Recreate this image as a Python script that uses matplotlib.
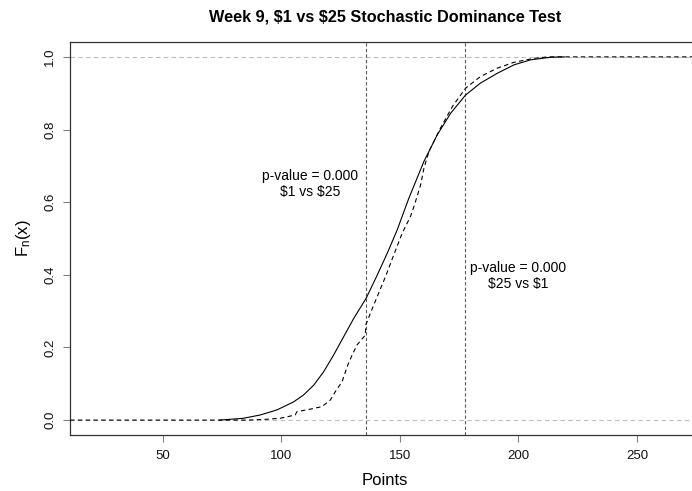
import matplotlib
matplotlib.use("Agg")
import matplotlib.pyplot as plt

plt.rcParams["font.family"] = ["Liberation Sans", "DejaVu Sans"]
plt.rcParams["mathtext.fontset"] = "custom"
plt.rcParams["mathtext.rm"] = "Liberation Sans"

# Empirical CDF of points scored, $1 group (solid)
pts_1 = [74, 84, 91, 98.1, 105.1, 109.3, 113.6, 117.8, 122, 126.2, 130.5,
         135.7, 140.4, 144.6, 148.8, 153.7, 160.1, 165.7, 171.4, 177.7, 184,
         191.1, 198.1, 205.2, 213.6, 219.3]
cdf_1 = [0.0, 0.005, 0.014, 0.028, 0.05, 0.069, 0.096, 0.133, 0.179, 0.229,
         0.28, 0.335, 0.399, 0.459, 0.523, 0.61, 0.712, 0.785, 0.845, 0.895,
         0.928, 0.955, 0.978, 0.992, 0.999, 1.0]

# Empirical CDF of points scored, $25 group (dashed)
pts_25 = [86, 93, 99.5, 105.8, 106.5, 112, 117.1, 120.6, 122.7, 125.6, 127.7,
          129.8, 131.9, 135.4, 135.6, 137.5, 140.4, 143.9, 147.4, 150.9, 154.4,
          156, 158.7, 160.1, 162.2, 167.1, 172.1, 177.7, 184, 191.1, 198.1,
          206.6, 212.5]
cdf_25 = [0.0, 0.002, 0.005, 0.014, 0.023, 0.03, 0.037, 0.055, 0.078, 0.106,
          0.147, 0.179, 0.207, 0.234, 0.262, 0.294, 0.34, 0.395, 0.455, 0.514,
          0.56, 0.59, 0.647, 0.693, 0.739, 0.804, 0.863, 0.914, 0.946, 0.969,
          0.985, 0.996, 1.0]

# Reference cut points and test annotations
cut_points = [135.6, 177.4]
p_1_vs_25 = 0.000
p_25_vs_1 = 0.000

x_ticks = [50, 100, 150, 200, 250]
y_ticks = [0.0, 0.2, 0.4, 0.6, 0.8, 1.0]
xlim = (10.8, 276.6)
ylim = (-0.041, 1.041)

fig = plt.figure(figsize=(6.92, 4.91), dpi=100)
ax = fig.add_axes([0.1012, 0.1141, 0.9104, 0.8004])
ax.set_xlim(*xlim)
ax.set_ylim(*ylim)

# Horizontal guides at 0 and 1
for yv in (0.0, 1.0):
    ax.axhline(yv, color="#bdbdbd", lw=0.8, ls=(0, (4, 3)), zorder=1)

# Cut-point verticals
for xv in cut_points:
    ax.axvline(xv, color="#5a5a5a", lw=0.8, ls=(0, (3, 2)), zorder=2)

ax.plot(pts_1, cdf_1, color="black", lw=0.8, zorder=3)

# Dashed ECDF, extended to the plot edges
dx = [xlim[0]] + pts_25 + [xlim[1]]
dy = [0.0] + cdf_25 + [1.0]
ax.plot(dx, dy, color="black", lw=0.8, ls=(0, (4, 3)), zorder=3)

ax.text(112, 0.65, f"p-value = {p_1_vs_25:.3f}\n\\$1 vs \\$25", ha="center",
        va="center", fontsize=10, linespacing=1.15)
ax.text(200, 0.397, f"p-value = {p_25_vs_1:.3f}\n\\$25 vs \\$1", ha="center",
        va="center", fontsize=10, linespacing=1.15)

ax.set_xticks(x_ticks)
ax.set_xticklabels([str(t) for t in x_ticks])
ax.set_yticks(y_ticks)
ax.set_yticklabels([f"{t:.1f}" for t in y_ticks], rotation=90, va="center")
ax.tick_params(axis="both", direction="out", length=5, width=0.8,
               color="#808080", labelsize=9.5, labelcolor="#111111", pad=6)
ax.tick_params(axis="y", pad=5)

for side in ("left", "bottom", "top"):
    ax.spines[side].set_color("#333333")
    ax.spines[side].set_linewidth(0.9)
ax.spines["right"].set_visible(False)

ax.set_xlabel("Points", fontsize=12, labelpad=8)
ax.set_ylabel(r"$\mathrm{F_n(x)}$", fontsize=12, labelpad=8)
fig.suptitle("Week 9, \\$1 vs \\$25 Stochastic Dominance Test", x=385 / 692,
             y=1 - 17 / 491, va="center", fontsize=11.7, fontweight="bold")

fig.savefig("out.png", dpi=100)
